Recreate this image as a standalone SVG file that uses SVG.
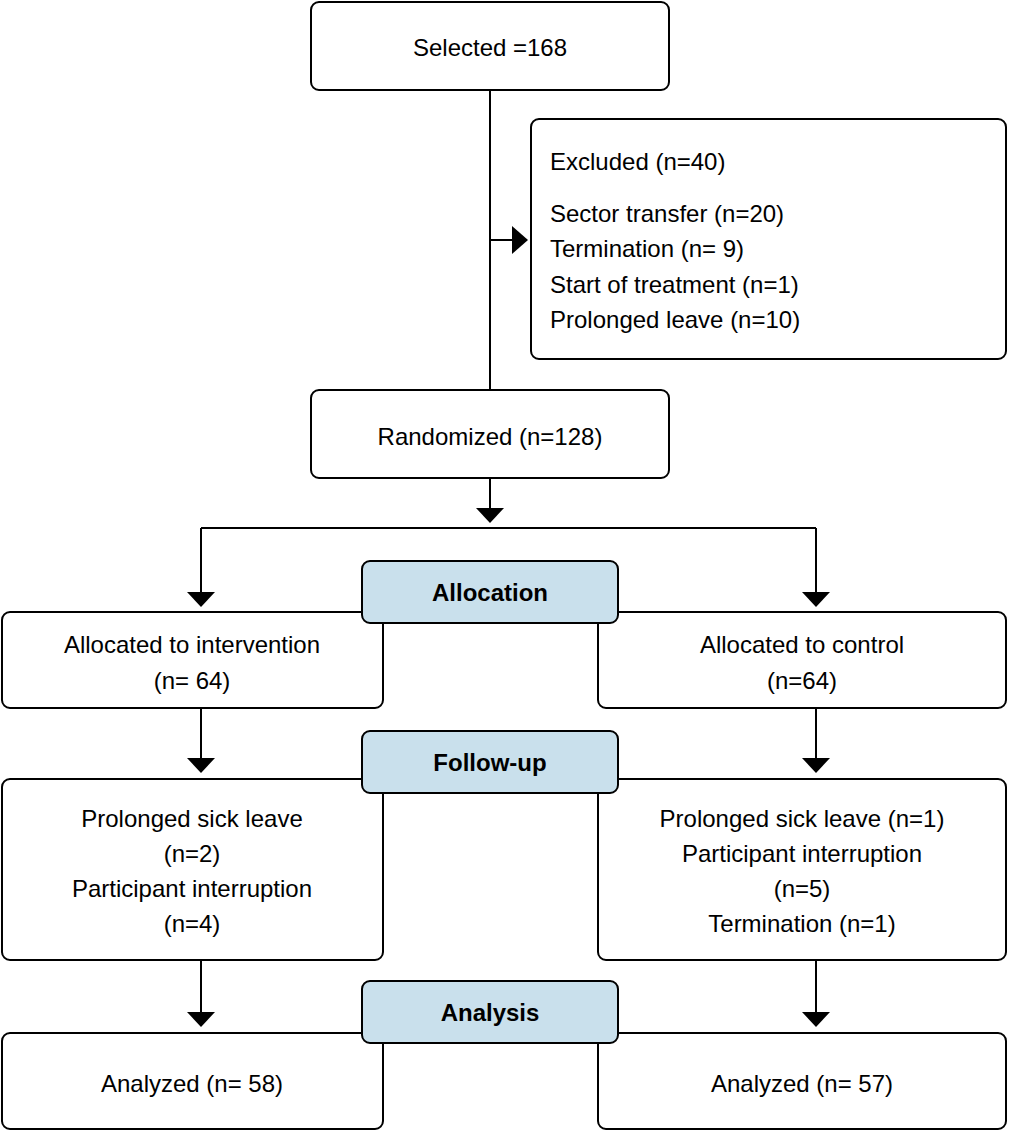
<svg xmlns="http://www.w3.org/2000/svg" width="1009" height="1132" viewBox="0 0 1009 1132">
<style>
.b{fill:#fff;stroke:#000;stroke-width:2}
.h{fill:#c9e0ec;stroke:#000;stroke-width:2}
text{font-family:"Liberation Sans",Arial,sans-serif;font-size:24px;fill:#000}
.c{text-anchor:middle}
.bold{font-weight:bold}
.l{fill:none;stroke:#000;stroke-width:2}
</style>
<g id="connectors">
<path class="l" d="M490 90V390M490 240H514M490 478V512M201 528H816M201 528V592M816 528V592M201 708V758M816 708V758M201 960V1012M816 960V1012"/>
<polygon points="512,226 528,240 512,254"/>
<polygon points="476,508 504,508 490,523"/>
<polygon points="187,592 215,592 201,607"/>
<polygon points="802,592 830,592 816,607"/>
<polygon points="187,758 215,758 201,773"/>
<polygon points="802,758 830,758 816,773"/>
<polygon points="187,1012 215,1012 201,1027"/>
<polygon points="802,1012 830,1012 816,1027"/>
</g>
<g id="selected"><rect class="b" x="311" y="2" width="358" height="88" rx="8"/><text class="c" x="490" y="56">Selected =168</text></g>
<g id="excluded"><rect class="b" x="531" y="119" width="475" height="240" rx="8"/>
<text x="550" y="170">Excluded (n=40)</text><text x="550" y="222">Sector transfer (n=20)</text><text x="550" y="257">Termination (n= 9)</text><text x="550" y="293">Start of treatment (n=1)</text><text x="550" y="328">Prolonged leave (n=10)</text></g>
<g id="randomized"><rect class="b" x="311" y="390" width="358" height="88" rx="8"/><text class="c" x="490" y="445">Randomized (n=128)</text></g>
<g id="alloc-int"><rect class="b" x="2" y="612" width="381" height="96" rx="8"/><text class="c" x="192" y="653">Allocated to intervention</text><text class="c" x="192" y="689">(n= 64)</text></g>
<g id="alloc-ctl"><rect class="b" x="598" y="612" width="408" height="96" rx="8"/><text class="c" x="802" y="653">Allocated to control</text><text class="c" x="802" y="689">(n=64)</text></g>
<g id="allocation"><rect class="h" x="362" y="561" width="256" height="62" rx="8"/><text class="c bold" x="490" y="601">Allocation</text></g>
<g id="fu-int"><rect class="b" x="2" y="779" width="381" height="181" rx="8"/><text class="c" x="192" y="827">Prolonged sick leave</text><text class="c" x="192" y="862">(n=2)</text><text class="c" x="192" y="897">Participant interruption</text><text class="c" x="192" y="932">(n=4)</text></g>
<g id="fu-ctl"><rect class="b" x="598" y="779" width="408" height="181" rx="8"/><text class="c" x="802" y="827">Prolonged sick leave (n=1)</text><text class="c" x="802" y="862">Participant interruption</text><text class="c" x="802" y="897">(n=5)</text><text class="c" x="802" y="932">Termination (n=1)</text></g>
<g id="followup"><rect class="h" x="362" y="731" width="256" height="62" rx="8"/><text class="c bold" x="490" y="771">Follow-up</text></g>
<g id="an-int"><rect class="b" x="2" y="1033" width="381" height="96" rx="8"/><text class="c" x="192" y="1092">Analyzed (n= 58)</text></g>
<g id="an-ctl"><rect class="b" x="598" y="1033" width="408" height="96" rx="8"/><text class="c" x="802" y="1092">Analyzed (n= 57)</text></g>
<g id="analysis"><rect class="h" x="362" y="981" width="256" height="62" rx="8"/><text class="c bold" x="490" y="1021">Analysis</text></g>
</svg>
